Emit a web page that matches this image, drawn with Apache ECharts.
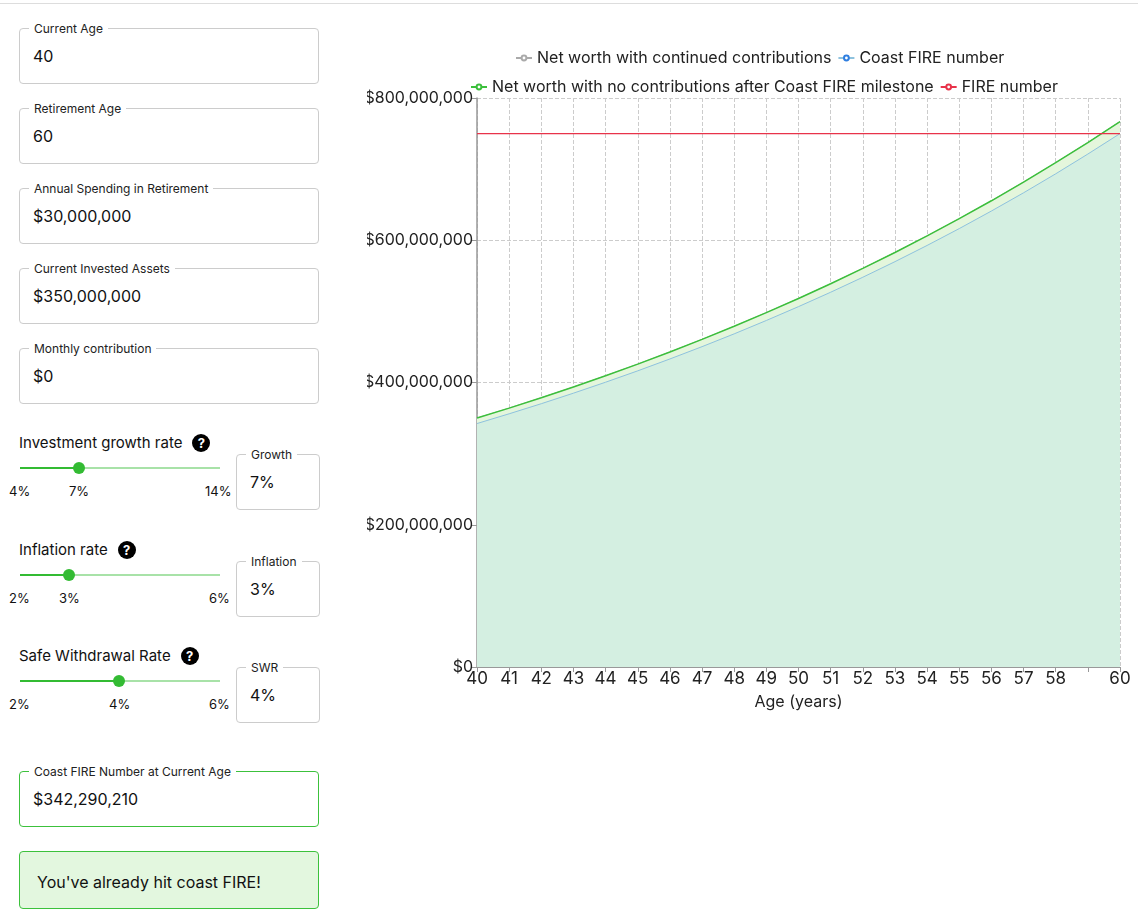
<!DOCTYPE html>
<html>
<head>
<meta charset="utf-8">
<script src="https://cdn.jsdelivr.net/npm/echarts@6/dist/echarts.min.js"></script>
<style>
  body { margin: 0; font-family: Inter, "Noto Sans", sans-serif; background: #fff; width: 1138px; height: 918px; position: relative; overflow: hidden; color: #111; }
  .topline { position: absolute; left: 0; top: 3px; width: 1138px; border-top: 1px solid #ddd; }
  .field { position: absolute; left: 19px; width: 298px; height: 54px; border: 1px solid #ccc; border-radius: 4px; }
  .field label { position: absolute; top: -8px; left: 9px; background: #fff; padding: 0 5px; font-size: 12px; color: #222; }
  .field span { position: absolute; left: 13px; top: 17px; font-size: 16px; }
  .green { border-color: #3cc13c; }
  .small { width: 82px; left: 236px; }
  .lbl { position: absolute; left: 19px; font-size: 15px; }
  .q { display: inline-block; width: 18px; height: 18px; border-radius: 9px; background: #000; color: #fff; font-size: 13px; font-weight: bold; text-align: center; line-height: 18px; margin-left: 10px; }
  .track { position: absolute; left: 20px; width: 200px; height: 2px; background: #a8e2a8; }
  .track i { position: absolute; left: 0; top: 0; height: 2px; background: #33bb33; }
  .track b { position: absolute; top: -5px; width: 12px; height: 12px; border-radius: 6px; background: #33bb33; margin-left: -6px; }
  .tk { position: absolute; font-size: 13px; }
  .done { position: absolute; left: 19px; top: 851px; width: 298px; height: 56px; border: 1px solid #3cc13c; border-radius: 4px; background: #e3f7df; }
  .done span { position: absolute; left: 17px; top: 20px; font-size: 16px; }
  #chart { position: absolute; left: 367px; top: 0; width: 771px; height: 720px; }
</style>
</head>
<body>
<div class="topline"></div>
<div class="field" style="top:28px"><label>Current Age</label><span>40</span></div>
<div class="field" style="top:108px"><label>Retirement Age</label><span>60</span></div>
<div class="field" style="top:188px"><label>Annual Spending in Retirement</label><span>$30,000,000</span></div>
<div class="field" style="top:268px"><label>Current Invested Assets</label><span>$350,000,000</span></div>
<div class="field" style="top:348px"><label>Monthly contribution</label><span>$0</span></div>

<div class="lbl" style="top:433px">Investment growth rate<span class="q">?</span></div>
<div class="track" style="top:467px"><i style="width:59px"></i><b style="left:59px"></b></div>
<div class="tk" style="left:9px;top:483px">4%</div><div class="tk" style="left:69px;top:483px">7%</div><div class="tk" style="left:205px;top:483px">14%</div>
<div class="field small" style="top:454px"><label>Growth</label><span>7%</span></div>

<div class="lbl" style="top:540px">Inflation rate<span class="q">?</span></div>
<div class="track" style="top:574px"><i style="width:49px"></i><b style="left:49px"></b></div>
<div class="tk" style="left:9px;top:590px">2%</div><div class="tk" style="left:59px;top:590px">3%</div><div class="tk" style="left:209px;top:590px">6%</div>
<div class="field small" style="top:561px"><label>Inflation</label><span>3%</span></div>

<div class="lbl" style="top:646px">Safe Withdrawal Rate<span class="q">?</span></div>
<div class="track" style="top:680px"><i style="width:99px"></i><b style="left:99px"></b></div>
<div class="tk" style="left:9px;top:696px">2%</div><div class="tk" style="left:109px;top:696px">4%</div><div class="tk" style="left:209px;top:696px">6%</div>
<div class="field small" style="top:667px"><label>SWR</label><span>4%</span></div>

<div class="field green" style="top:771px"><label>Coast FIRE Number at Current Age</label><span>$342,290,210</span></div>
<div class="done"><span>You've already hit coast FIRE!</span></div>

<div id="chart"></div>
<script>
// ages 40..60, values in millions of dollars
var ages = ['40','41','42','43','44','45','46','47','48','49','50','51','52','53','54','55','56','57','58','59','60'];
var continued = [350, 364, 378.6, 393.7, 409.5, 425.8, 442.9, 460.6, 479.0, 498.2, 518.1, 538.8, 560.4, 582.8, 606.1, 630.3, 655.5, 681.8, 709.0, 737.4, 766.9];
var noContrib = [350, 364, 378.6, 393.7, 409.5, 425.8, 442.9, 460.6, 479.0, 498.2, 518.1, 538.8, 560.4, 582.8, 606.1, 630.3, 655.5, 681.8, 709.0, 737.4, 766.9];
var coastFire = [342.3, 356.0, 370.2, 385.0, 400.4, 416.4, 433.1, 450.4, 468.4, 487.2, 506.7, 526.9, 548.0, 569.9, 592.7, 616.4, 641.1, 666.7, 693.4, 721.2, 750.0];
var fireNumber = [750, 750, 750, 750, 750, 750, 750, 750, 750, 750, 750, 750, 750, 750, 750, 750, 750, 750, 750, 750, 750];

var chart = echarts.init(document.getElementById('chart'));
var font = {fontFamily: 'Inter', fontSize: 17, color: '#222'};
var legText = {fontFamily: 'Inter', fontSize: 16, color: '#222'};
function money(v) { return '$' + (v * 1000000).toLocaleString('en-US'); }
function line(name, data, color, extra) {
  return Object.assign({name: name, type: 'line', data: data, symbol: 'emptyCircle', symbolSize: 5, showSymbol: false,
    color: color, lineStyle: {width: 1, color: color}}, extra);
}
chart.setOption({
  animation: false,
  legend: [
    {data: ['Net worth with continued contributions', 'Coast FIRE number'], left: 143, top: 45, itemWidth: 16, itemHeight: 6, itemGap: 6, textStyle: legText},
    {data: ['Net worth with no contributions after Coast FIRE milestone', 'FIRE number'], left: 98, top: 74, itemWidth: 16, itemHeight: 6, itemGap: 6, textStyle: legText}
  ],
  grid: {left: 110, right: 18, top: 98, bottom: 53, outerBoundsMode: 'none', containLabel: false},
  xAxis: {
    type: 'category', data: ages, boundaryGap: false,
    name: 'Age (years)', nameLocation: 'middle', nameGap: 27, nameTextStyle: {fontFamily: 'Inter', fontSize: 16, color: '#222'},
    axisLine: {lineStyle: {color: '#999'}},
    axisTick: {alignWithLabel: true, length: 5, lineStyle: {color: '#999'}},
    axisLabel: Object.assign({interval: 0, margin: 3, formatter: function (v) { return v === '59' ? '' : v; }}, font),
    splitLine: {show: true, lineStyle: {type: 'dashed', color: '#ccc'}}
  },
  yAxis: {
    type: 'value', min: 0, max: 800, interval: 200,
    axisLine: {show: true, lineStyle: {color: '#999', width: 1.5}},
    axisTick: {show: true, length: 6, lineStyle: {color: '#999'}},
    axisLabel: Object.assign({margin: 4, formatter: money}, font, {fontSize: 16}),
    splitLine: {lineStyle: {type: 'dashed', color: '#ccc'}}
  },
  series: [
    line('Net worth with continued contributions', continued, '#aaa', {z: 2}),
    line('Net worth with no contributions after Coast FIRE milestone', noContrib, '#3cbf3c',
      {lineStyle: {width: 1.5, color: '#3cbf3c'}, areaStyle: {color: '#e4f6dc', opacity: 1}, z: 3}),
    line('Coast FIRE number', coastFire, '#2f7ee0',
      {lineStyle: {width: 1, color: '#8ec2de'}, areaStyle: {color: '#d4efe1', opacity: 1}, z: 4}),
    line('FIRE number', fireNumber, '#e8334a', {lineStyle: {width: 1.2, color: '#e8334a'}, z: 5})
  ]
});
</script>
</body>
</html>
